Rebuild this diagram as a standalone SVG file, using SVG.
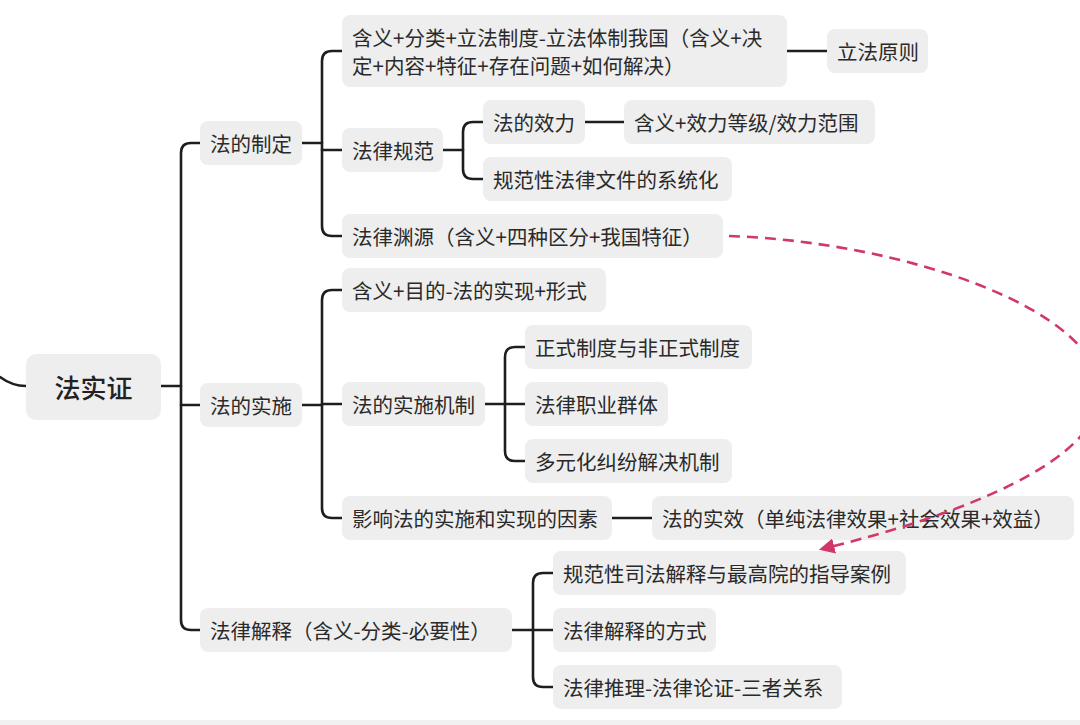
<svg xmlns="http://www.w3.org/2000/svg" width="1080" height="725" viewBox="0 0 1080 725">
<defs>
<style>
.box{fill:#eeeeee}
.t{font-family:"Noto Sans CJK SC","Noto Sans",sans-serif;font-size:20.5px;fill:#2a2a2a;dominant-baseline:central}
.root{font-family:"Noto Sans CJK SC","Noto Sans",sans-serif;font-size:26px;font-weight:500;fill:#222;dominant-baseline:central;text-anchor:middle}
.ln{fill:none;stroke:#1e1e1e;stroke-width:2.6;stroke-linecap:round;stroke-linejoin:round}
.rel{fill:none;stroke:#d0386a;stroke-width:2.6;stroke-dasharray:11 7}
</style>
<marker id="ah" viewBox="0 0 10 10" refX="8" refY="5" markerWidth="6" markerHeight="6" orient="auto" markerUnits="strokeWidth">
<path d="M0,0 L10,5 L0,10 z" fill="#d0386a"/>
</marker>
</defs>
<rect x="0" y="720" width="1080" height="5" fill="#f1f1f1"/>
<g id="connectors">
<path class="ln" d="M0,377 Q12,386 26,386"/>
<path class="ln" d="M161,386 H181"/>
<path class="ln" d="M200,143 H191 Q181,143 181,153 V620 Q181,630 191,630 H200"/>
<path class="ln" d="M181,405 H200"/>
<path class="ln" d="M302,143 H322"/>
<path class="ln" d="M342,51 H332 Q322,51 322,61 V226 Q322,236 332,236 H342"/>
<path class="ln" d="M322,150 H342"/>
<path class="ln" d="M787,51 H827"/>
<path class="ln" d="M443,150 H463"/>
<path class="ln" d="M483,122 H473 Q463,122 463,132 V169 Q463,179 473,179 H483"/>
<path class="ln" d="M585,122 H624"/>
<path class="ln" d="M302,405 H322"/>
<path class="ln" d="M342,290 H332 Q322,290 322,300 V508 Q322,518 332,518 H342"/>
<path class="ln" d="M322,404 H342"/>
<path class="ln" d="M485,404 H525"/>
<path class="ln" d="M525,347 H515 Q505,347 505,357 V451 Q505,461 515,461 H525"/>
<path class="ln" d="M612,518 H652"/>
<path class="ln" d="M512,630 H553"/>
<path class="ln" d="M553,573 H543 Q533,573 533,583 V677 Q533,687 543,687 H553"/>
</g>
<g id="n0"><rect class="box" x="26" y="354" width="135" height="66" rx="10"/><text class="root" x="93.5" y="386">法实证</text></g>
<g id="n1"><rect class="box" x="200" y="121" width="102" height="44" rx="8"/><text class="t" x="210" y="143">法的制定</text></g>
<g id="n2"><rect class="box" x="200" y="383" width="102" height="44" rx="8"/><text class="t" x="210" y="405">法的实施</text></g>
<g id="n3"><rect class="box" x="200" y="608" width="312" height="44" rx="8"/><text class="t" x="210" y="630">法律解释（含义-分类-必要性）</text></g>
<g id="n11"><rect class="box" x="342" y="15" width="445" height="72" rx="8"/><text class="t" x="352" y="37">含义+分类+立法制度-立法体制我国（含义+决</text><text class="t" x="352" y="65">定+内容+特征+存在问题+如何解决）</text></g>
<g id="n111"><rect class="box" x="827" y="29" width="101" height="44" rx="8"/><text class="t" x="837" y="51">立法原则</text></g>
<g id="n12"><rect class="box" x="342" y="128" width="101" height="44" rx="8"/><text class="t" x="352" y="150">法律规范</text></g>
<g id="n121"><rect class="box" x="483" y="100" width="102" height="44" rx="8"/><text class="t" x="493" y="122">法的效力</text></g>
<g id="n1211"><rect class="box" x="624" y="100" width="251" height="44" rx="8"/><text class="t" x="634" y="122">含义+效力等级/效力范围</text></g>
<g id="n122"><rect class="box" x="483" y="157" width="249" height="44" rx="8"/><text class="t" x="493" y="179">规范性法律文件的系统化</text></g>
<g id="n13"><rect class="box" x="342" y="214" width="381" height="44" rx="8"/><text class="t" x="352" y="236">法律渊源（含义+四种区分+我国特征）</text></g>
<g id="n21"><rect class="box" x="342" y="268" width="264" height="44" rx="8"/><text class="t" x="352" y="290">含义+目的-法的实现+形式</text></g>
<g id="n22"><rect class="box" x="342" y="382" width="143" height="44" rx="8"/><text class="t" x="352" y="404">法的实施机制</text></g>
<g id="n221"><rect class="box" x="525" y="325" width="227" height="44" rx="8"/><text class="t" x="535" y="347">正式制度与非正式制度</text></g>
<g id="n222"><rect class="box" x="525" y="382" width="143" height="44" rx="8"/><text class="t" x="535" y="404">法律职业群体</text></g>
<g id="n223"><rect class="box" x="525" y="439" width="207" height="44" rx="8"/><text class="t" x="535" y="461">多元化纠纷解决机制</text></g>
<g id="n23"><rect class="box" x="342" y="496" width="270" height="44" rx="8"/><text class="t" x="352" y="518">影响法的实施和实现的因素</text></g>
<g id="n231"><rect class="box" x="652" y="496" width="422" height="44" rx="8"/><text class="t" x="662" y="518">法的实效（单纯法律效果+社会效果+效益）</text></g>
<g id="n31"><rect class="box" x="553" y="551" width="353" height="44" rx="8"/><text class="t" x="563" y="573">规范性司法解释与最高院的指导案例</text></g>
<g id="n32"><rect class="box" x="553" y="608" width="163" height="44" rx="8"/><text class="t" x="563" y="630">法律解释的方式</text></g>
<g id="n33"><rect class="box" x="553" y="665" width="289" height="44" rx="8"/><text class="t" x="563" y="687">法律推理-法律论证-三者关系</text></g>
<g id="relations">
<path class="rel" d="M729,236 C905,242 1100,310 1100,392 C1100,462 960,515 822,549" marker-end="url(#ah)"/>
</g>
</svg>
